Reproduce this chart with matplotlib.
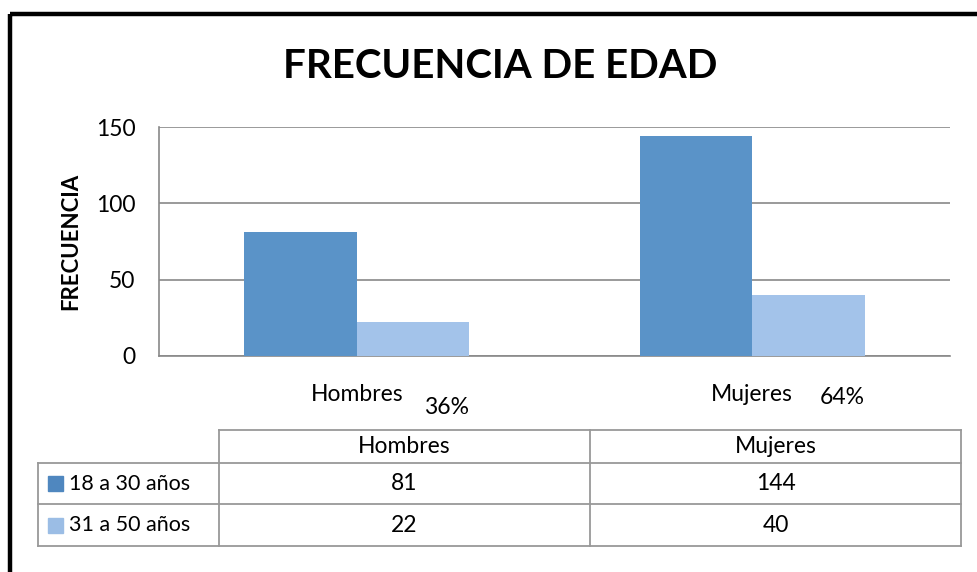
import matplotlib
matplotlib.use("Agg")
import matplotlib.pyplot as plt
import numpy as np
from matplotlib.patches import Rectangle

plt.rcParams['font.family'] = ['Lato', 'DejaVu Sans']

# ---- data ----
title = "FRECUENCIA DE EDAD"
ylabel = "FRECUENCIA"
categories = ["Hombres", "Mujeres"]
series_names = ["18 a 30 años", "31 a 50 años"]
values_18_30 = [81, 144]
values_31_50 = [22, 40]
percentages = ["36%", "64%"]
yticks = [0, 50, 100, 150]

dark = "#5A93C8"
light = "#A3C3EA"
key_dark = "#4F87BF"
key_light = "#9BBDE5"
grid_c = "#898989"

FS = 16.5

W, H = 977, 572
fig = plt.figure(figsize=(W / 100, H / 100), dpi=100)

def fx(px):
    return px / W

def fy(py):
    return 1 - py / H

# ---- bar axes ----
ax = fig.add_axes([fx(159), fy(356), fx(950) - fx(159), fy(127) - fy(356)])
x = np.arange(len(categories))
bw = 0.285
ax.bar(x - bw / 2, values_18_30, bw, color=dark, zorder=3)
ax.bar(x + bw / 2, values_31_50, bw, color=light, zorder=3)
ax.set_xlim(-0.5, len(categories) - 0.5)
ax.set_ylim(0, 150)
ax.set_yticks(yticks)
ax.yaxis.grid(True, color=grid_c, lw=1.2, zorder=1)
for s in ["top", "right"]:
    ax.spines[s].set_visible(False)
for s in ["left", "bottom"]:
    ax.spines[s].set_color(grid_c)
    ax.spines[s].set_linewidth(1.2)
ax.tick_params(axis='y', length=0, pad=17, labelsize=FS)
ax.tick_params(axis='x', length=0, pad=20, labelsize=FS)
ax.set_xticks(x)
ax.set_xticklabels(categories)
ax.text(-0.111, 0.5, ylabel, rotation=90, fontsize=16, fontweight='bold',
        ha='center', va='center', transform=ax.transAxes)
pct_dy = [-0.225, -0.18]
for i, p in enumerate(percentages):
    ax.text(x[i] + 0.228, pct_dy[i], p, fontsize=FS, ha='center', va='center',
            transform=ax.get_xaxis_transform())

# ---- title ----
fig.text(fx(500), fy(78), title, fontsize=29, fontweight='bold', ha='center', va='baseline')

# ---- overlay for table and frame ----
ov = fig.add_axes([0, 0, 1, 1], zorder=-1)
ov.set_xlim(0, W)
ov.set_ylim(H, 0)
ov.axis('off')
ov.add_patch(Rectangle((10, 13.5), 1200, 800, fill=False, ec='black', lw=3.2))

tc = "#999999"
col_x = [38, 219, 590, 961]
row_y = [430, 463, 504, 546]
lw_t = 1.3
ov.plot([col_x[1], col_x[3]], [row_y[0], row_y[0]], color=tc, lw=lw_t)
for ry in row_y[1:]:
    ov.plot([col_x[0], col_x[3]], [ry, ry], color=tc, lw=lw_t)
ov.plot([col_x[0], col_x[0]], [row_y[1], row_y[3]], color=tc, lw=lw_t)
for cx in col_x[1:]:
    ov.plot([cx, cx], [row_y[0], row_y[3]], color=tc, lw=lw_t)

for j, c in enumerate(categories):
    xc = (col_x[j + 1] + col_x[j + 2]) / 2
    ov.text(xc, (row_y[0] + row_y[1]) / 2, c, fontsize=FS, ha='center', va='center')

rows = [values_18_30, values_31_50]
keys = [key_dark, key_light]
for i, (name, vals) in enumerate(zip(series_names, rows)):
    yc = (row_y[i + 1] + row_y[i + 2]) / 2
    ov.add_patch(Rectangle((48, yc - 7.5), 15, 15, color=keys[i]))
    ov.text(69, yc, name, fontsize=15.5, ha='left', va='center')
    for j, v in enumerate(vals):
        xc = (col_x[j + 1] + col_x[j + 2]) / 2
        ov.text(xc, yc, str(v), fontsize=FS, ha='center', va='center')

fig.savefig("out.png", dpi=100, facecolor='white')
